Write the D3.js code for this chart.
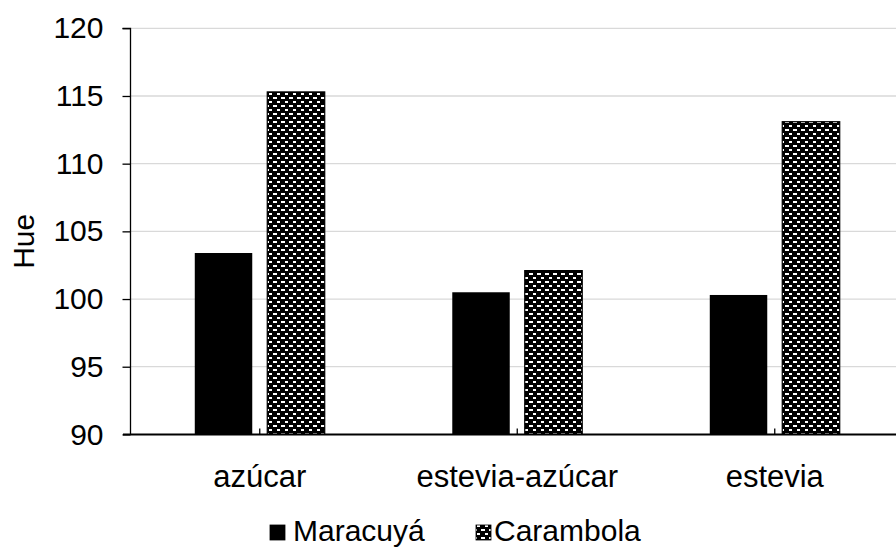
<!DOCTYPE html>
<html>
<head>
<meta charset="utf-8">
<script src="https://cdn.jsdelivr.net/npm/d3@7"></script>
<style>
  html, body { margin: 0; padding: 0; background: #fff; }
  svg { display: block; font-family: "Liberation Sans", Arial, sans-serif; }
</style>
</head>
<body>
<svg id="chart" width="896" height="549"></svg>
<script>
// Hue by sweetener type, for two fruits
const categories = ["azúcar", "estevia-azúcar", "estevia"];
const series = ["Maracuyá", "Carambola"];
const maracuya = [103.4, 100.5, 100.3];
const carambola = [115.3, 102.1, 113.1];
const yTicks = [90, 95, 100, 105, 110, 115, 120];
const yLabel = "Hue";

const values = [maracuya, carambola];

const svg = d3.select("#chart");
const W = 896, H = 549;
const plot = { left: 131, right: 903.5, top: 28.3, bottom: 434.4 };

// checkered fill used for the second series
const defs = svg.append("defs");
const pat = defs.append("pattern")
  .attr("id", "checker")
  .attr("patternUnits", "userSpaceOnUse")
  .attr("width", 8).attr("height", 8);
pat.append("rect").attr("width", 8).attr("height", 8).attr("fill", "#000");
pat.append("rect").attr("x", 1).attr("y", 1).attr("width", 4).attr("height", 2).attr("fill", "#fff");
pat.append("rect").attr("x", 5).attr("y", 5).attr("width", 4).attr("height", 2).attr("fill", "#fff");

const fills = ["#000", "url(#checker)"];

const x = d3.scaleBand().domain(categories).range([plot.left, plot.right]);
const xs = d3.scaleBand().domain(series).range([0, x.bandwidth()])
  .paddingInner(0.207).paddingOuter(0.88);
const y = d3.scaleLinear().domain([90, 120]).range([plot.bottom, plot.top]);

// gridlines
svg.append("g").selectAll("line")
  .data(yTicks.filter(t => t > 90))
  .join("line")
  .attr("x1", plot.left).attr("x2", W)
  .attr("y1", d => y(d)).attr("y2", d => y(d))
  .attr("stroke", "#d9d9d9").attr("stroke-width", 1.3);

// bars
series.forEach((s, si) => {
  svg.append("g").selectAll("rect")
    .data(categories.map((c, i) => ({ c, v: values[si][i] })))
    .join("rect")
    .attr("x", d => x(d.c) + xs(s))
    .attr("width", xs.bandwidth())
    .attr("y", d => y(d.v))
    .attr("height", d => y(90) - y(d.v))
    .attr("fill", fills[si])
    .attr("stroke", si === 1 ? "#000" : "none")
    .attr("stroke-width", 1.2);
});

// y axis
const yAxis = d3.axisLeft(y).tickValues(yTicks).tickSize(8).tickPadding(19).tickFormat(d3.format("d"));
const gy = svg.append("g").attr("transform", `translate(${plot.left - 0.5},0)`).call(yAxis);
gy.select(".domain").attr("stroke", "#000").attr("stroke-width", 1.3).attr("d", `M-8,${plot.top}H0V${plot.bottom}`);
gy.selectAll(".tick line").attr("stroke", "#000").attr("stroke-width", 1.3);
gy.selectAll(".tick text").attr("font-size", 30).attr("fill", "#000")
  .attr("font-family", "Liberation Sans, Arial, sans-serif");

// x axis
const xAxis = d3.axisBottom(x).tickSize(-6).tickPadding(31);
const gx = svg.append("g").attr("transform", `translate(0,${plot.bottom})`).call(xAxis);
gx.select(".domain").attr("stroke", "#000").attr("stroke-width", 2).attr("d", `M${plot.left - 8},0H${W}`);
gx.selectAll(".tick line").attr("stroke", "#000").attr("stroke-width", 1.3);
gx.selectAll(".tick text").attr("font-size", 31).attr("fill", "#000")
  .attr("font-family", "Liberation Sans, Arial, sans-serif");

// y axis title
svg.append("text")
  .attr("transform", `translate(34,${(plot.top + plot.bottom) / 2 + 10}) rotate(-90)`)
  .attr("text-anchor", "middle")
  .attr("font-size", 30)
  .attr("fill", "#000")
  .text(yLabel);

// legend
const legendItems = [
  { name: series[0], fill: fills[0], x: 270, tx: 293 },
  { name: series[1], fill: fills[1], x: 476, tx: 494 }
];
const lg = svg.append("g");
legendItems.forEach(it => {
  lg.append("rect").attr("x", it.x).attr("y", 525).attr("width", 15).attr("height", 15)
    .attr("fill", it.fill).attr("stroke", "#000").attr("stroke-width", 0.8);
  lg.append("text").attr("x", it.tx).attr("y", 541)
    .attr("font-size", 30).attr("fill", "#000").text(it.name);
});
</script>
</body>
</html>
